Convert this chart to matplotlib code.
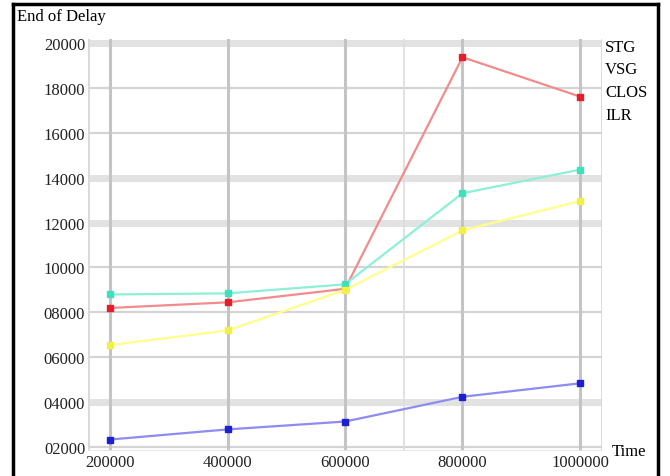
import matplotlib.pyplot as plt
from matplotlib.lines import Line2D

plt.rcParams['font.family'] = ['Liberation Serif', 'DejaVu Serif']

# data
times = [200000, 400000, 600000, 800000, 1000000]
stg = [8200, 8450, 9050, 19350, 17600]
vsg = [8800, 8850, 9250, 13300, 14350]
clos = [6550, 7200, 9000, 11650, 12950]
ilr = [2350, 2800, 3150, 4250, 4850]
series_names = ['STG', 'VSG', 'CLOS', 'ILR']
y_ticks = [2000, 4000, 6000, 8000, 10000, 12000, 14000, 16000, 18000, 20000]
y_tick_labels = ['02000', '04000', '06000', '08000', '10000',
                 '12000', '14000', '16000', '18000', '20000']

fig = plt.figure(figsize=(6.7, 4.77), dpi=100)
ax = fig.add_axes([88 / 670, 1 - 452 / 477, (602 - 88) / 670, (452 - 40) / 477])

ax.set_xlim(162500, 1037500)
ax.set_ylim(1840, 20160)

# grid: thin lines plus a few wider pale bands, like the original
for y in y_ticks:
    ax.axhline(y, color='#d4d4d4', lw=1.6, zorder=0)
for y in [20000, 14000, 12000, 4000]:
    ax.axhline(y, color='#e2e2e2', lw=5, zorder=0)
for x in times:
    ax.axvline(x, color='#c4c4c4', lw=2.2, zorder=0)
ax.axvline(700000, color='#dcdcdc', lw=1.2, zorder=0)
ax.axvline(ax.get_xlim()[0], color='#d8d8d8', lw=2, zorder=0)
ax.axvline(ax.get_xlim()[1], color='#d8d8d8', lw=2, zorder=0)
ax.axhline(ax.get_ylim()[0], color='#e4e4e4', lw=2, zorder=0)

styles = [('#f28c8c', '#e41e2a'), ('#8cf0d8', '#3fe0be'),
          ('#ffff8a', '#f2f046'), ('#8c8cf2', '#1e1ed2')]
for vals, (lc, mc) in zip([stg, vsg, clos, ilr], styles):
    ax.plot(times, vals, color=lc, lw=1.6, marker='s', markersize=5,
            markerfacecolor=mc, markeredgecolor=mc, zorder=3)

ax.set_xticks(times)
ax.set_xticklabels([str(t) for t in times])
ax.set_yticks(y_ticks)
ax.set_yticklabels(y_tick_labels)
ax.tick_params(length=0, labelsize=12, colors='#222222', pad=2)
for s in ax.spines.values():
    s.set_visible(False)

# labels
fig.text(17 / 670, 1 - 17 / 477, 'End of Delay', fontsize=12, va='center', ha='left')
fig.text(612 / 670, 1 - 452 / 477, 'Time', fontsize=12, va='center', ha='left')
for i, name in enumerate(series_names):
    fig.text(605 / 670, 1 - (48 + i * 22.5) / 477, name, fontsize=12,
             va='center', ha='left')

# outer black frame (open at the bottom)
fx0, fx1, fy1 = 13 / 670, 658 / 670, 1 - 5 / 477
for xs, ys in [([fx0, fx0], [0, fy1]), ([fx0, fx1], [fy1, fy1]), ([fx1, fx1], [fy1, 0])]:
    fig.add_artist(Line2D(xs, ys, color='black', lw=2.5, transform=fig.transFigure))

fig.savefig('out.png', dpi=100)
